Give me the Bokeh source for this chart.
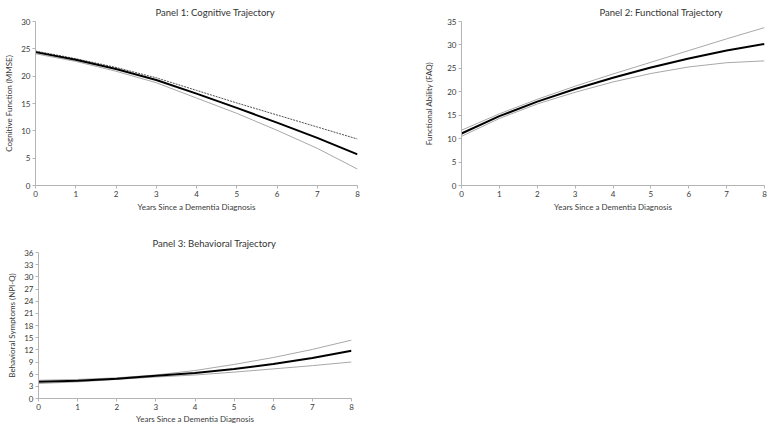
from bokeh.plotting import figure
from bokeh.layouts import column, row
from bokeh.models import Range1d, FixedTicker
from bokeh.embed import file_html
from bokeh.resources import INLINE

years = [0, 1, 2, 3, 4, 5, 6, 7, 8]

# Panel 1: Cognitive (MMSE)
mmse_mean = [24.4, 23.0, 21.3, 19.3, 16.8, 14.2, 11.5, 8.7, 5.7]
mmse_upper = [24.6, 23.2, 21.6, 19.7, 17.4, 15.1, 12.9, 10.7, 8.5]
mmse_lower = [24.1, 22.7, 20.9, 18.8, 16.0, 13.2, 10.1, 6.8, 3.0]

# Panel 2: Functional (FAQ)
faq_mean = [11.1, 14.8, 17.9, 20.6, 23.0, 25.2, 27.1, 28.8, 30.2]
faq_upper = [11.8, 15.3, 18.4, 21.2, 23.8, 26.3, 28.8, 31.3, 33.7]
faq_lower = [10.5, 14.3, 17.4, 19.9, 22.1, 23.9, 25.3, 26.2, 26.6]

# Panel 3: Behavioral (NPI-Q)
npi_mean = [4.1, 4.4, 4.9, 5.6, 6.3, 7.3, 8.5, 10.0, 11.8]
npi_upper = [4.5, 4.7, 5.1, 5.8, 6.9, 8.4, 10.1, 12.1, 14.4]
npi_lower = [3.7, 4.1, 4.7, 5.3, 5.8, 6.5, 7.3, 8.1, 9.0]

FONT = "Lato"
AXIS_COLOR = "#b4b4b4"
TEXT_COLOR = "#3a3a3a"


def make_panel(title, ylabel, ymax, ystep, mean, upper, lower, upper_dotted,
               w, h, bl, br, bt, bb, title_offset, title_standoff,
               ylabel_standoff, xlabel_standoff=2):
    p = figure(width=w, height=h, output_backend="svg",
               toolbar_location=None, x_range=Range1d(0, 8),
               y_range=Range1d(0, ymax), title=title,
               min_border_left=bl, min_border_right=br,
               min_border_top=bt, min_border_bottom=bb)
    p.outline_line_color = None
    p.grid.visible = False
    p.background_fill_color = "white"
    p.border_fill_color = "white"

    p.title.align = "left"
    p.title.offset = title_offset
    p.title.text_font = FONT
    p.title.text_font_size = "9.5px"
    p.title.text_font_style = "normal"
    p.title.text_color = "#333333"
    p.title.standoff = title_standoff

    p.xaxis.ticker = FixedTicker(ticks=years)
    p.yaxis.ticker = FixedTicker(ticks=list(range(0, ymax + 1, ystep)))
    for ax in (p.xaxis, p.yaxis):
        ax.axis_line_color = AXIS_COLOR
        ax.major_tick_line_color = AXIS_COLOR
        ax.minor_tick_line_color = None
        ax.major_tick_in = 0
        ax.major_tick_out = 3
        ax.major_label_text_font = FONT
        ax.major_label_text_font_size = "8px"
        ax.major_label_text_color = TEXT_COLOR
        ax.major_label_standoff = 2
        ax.axis_label_text_font = FONT
        ax.axis_label_text_font_size = "8px"
        ax.axis_label_text_font_style = "normal"
        ax.axis_label_text_color = TEXT_COLOR
    p.xaxis.axis_label = "Years Since a Dementia Diagnosis"
    p.xaxis.axis_label_standoff = xlabel_standoff
    p.yaxis.axis_label = ylabel
    p.yaxis.axis_label_standoff = ylabel_standoff

    if upper_dotted:
        p.line(years, upper, line_color="#505050", line_width=1,
               line_dash="2 1")
    else:
        p.line(years, upper, line_color="#a8a8a8", line_width=1)
    p.line(years, lower, line_color="#a8a8a8", line_width=1)
    p.line(years, mean, line_color="black", line_width=2)
    return p


p1 = make_panel("Panel 1: Cognitive Trajectory", "Cognitive Function (MMSE)",
                30, 5, mmse_mean, mmse_upper, mmse_lower, True,
                379, 214, 35, 22, 20, 29, 120, 8, 4)
p2 = make_panel("Panel 2: Functional Trajectory", "Functional Ability (FAQ)",
                35, 5, faq_mean, faq_upper, faq_lower, False,
                389, 214, 82, 4, 20, 29, 138, 8, 10)
p3 = make_panel("Panel 3: Behavioral Trajectory", "Behavioral Symptoms (NPI-Q)",
                36, 3, npi_mean, npi_upper, npi_lower, False,
                371, 212, 38, 20, 38, 25, 114, 7, 4, 1)

layout = column(row(p1, p2), p3)
open("out.html", "w").write(file_html(layout, INLINE))
